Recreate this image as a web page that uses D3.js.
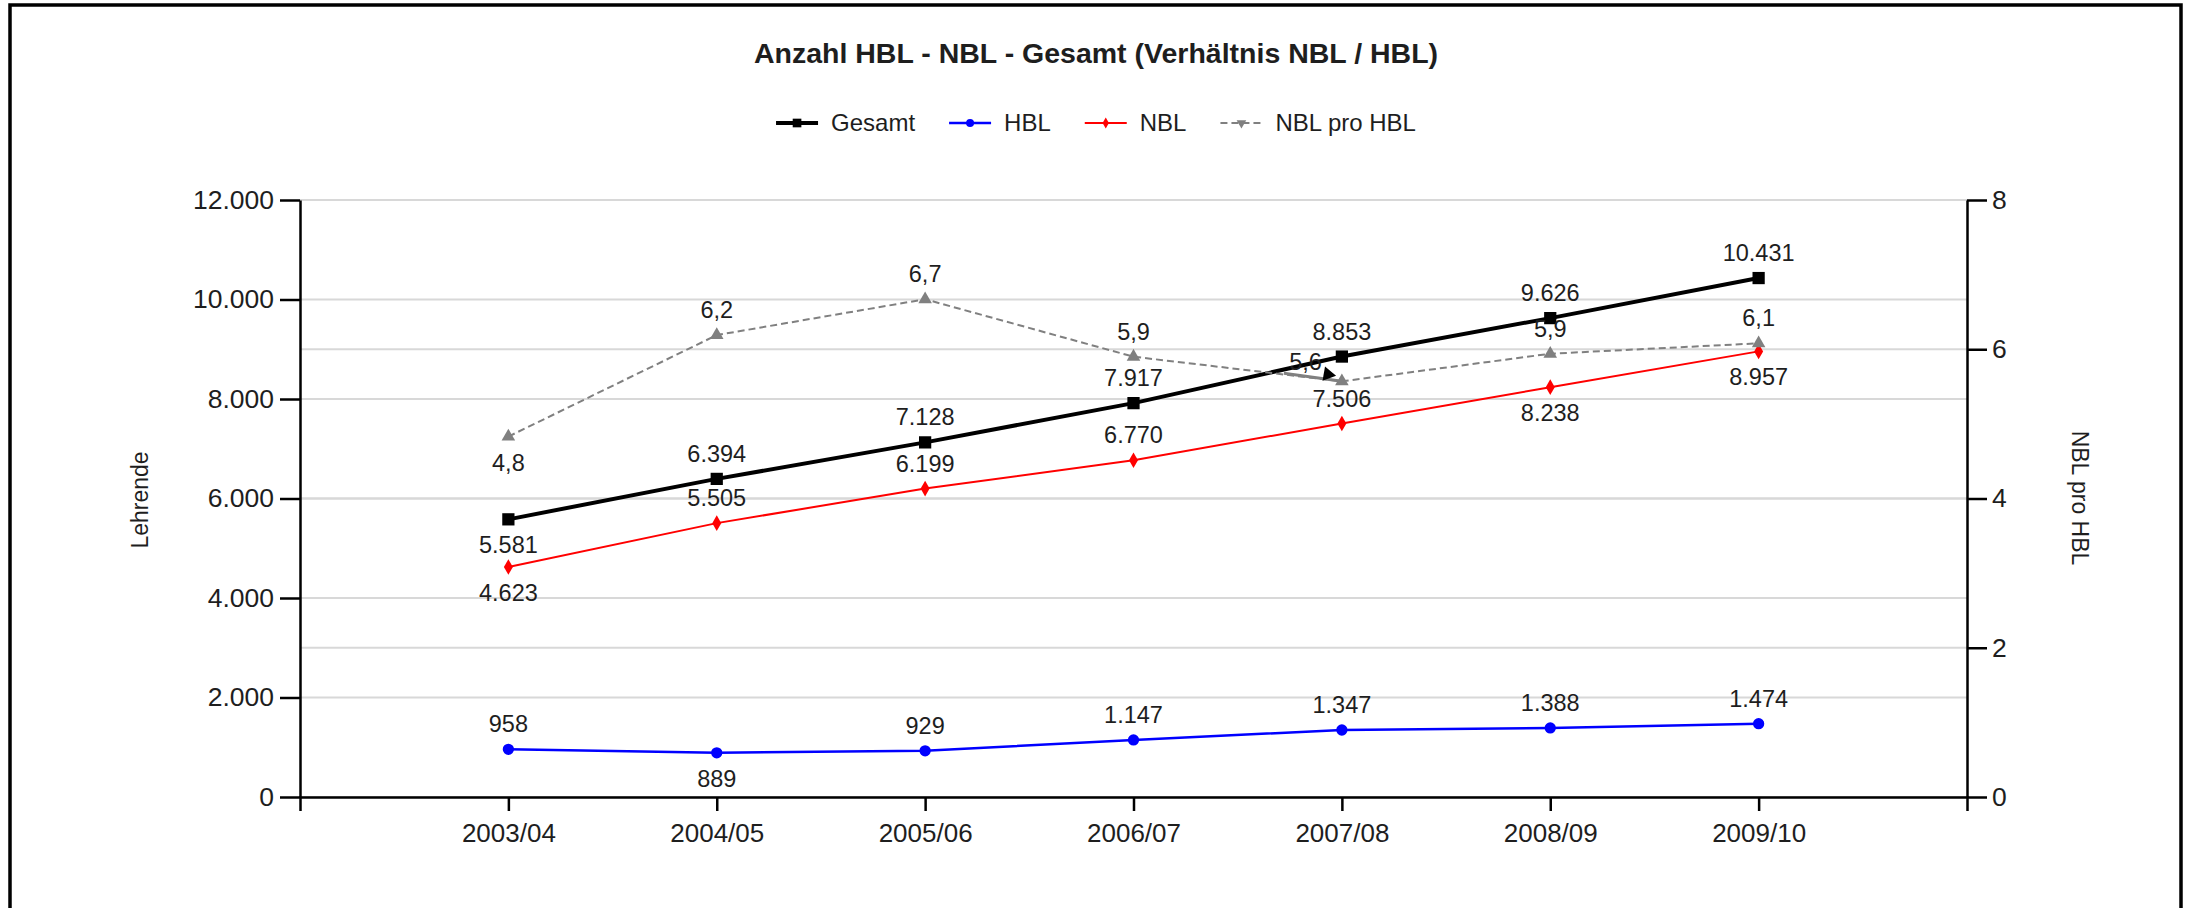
<!DOCTYPE html>
<meta charset="utf-8">

<style>
body { margin: 0; background: #fff; }
svg text { font-family: "Liberation Sans", Arial, sans-serif; fill: #1e1e1e; }
.axis text { font-size: 26.5px; }
.axis.x text { font-size: 26px; }
.axis path, .axis line { stroke: #000; stroke-width: 2.5px; }
.grid line { stroke: #d8d8d8; stroke-width: 2px; }
.title { font-size: 28.5px; font-weight: bold; }
.legend text { font-size: 24px; }
.axis-title { font-size: 23px; }
.label { font-size: 23.5px; }
</style>

<svg class="chart"></svg>

<script src="https://d3js.org/d3.v7.min.js"></script>
<script>

  var years      = ["2003/04", "2004/05", "2005/06", "2006/07", "2007/08", "2008/09", "2009/10"];
  var gesamt     = [5581, 6394, 7128, 7917, 8853, 9626, 10431];
  var hbl        = [958, 889, 929, 1147, 1347, 1388, 1474];
  var nbl        = [4623, 5505, 6199, 6770, 7506, 8238, 8957];
  var nblProHbl  = [4.83, 6.19, 6.67, 5.90, 5.57, 5.94, 6.08];

  var leftTicks  = [0, 2000, 4000, 6000, 8000, 10000, 12000];
  var rightTicks = [0, 2, 4, 6, 8];

  // where each value label sits relative to its point
  var gesamtSide = ["below", "above", "above", "above", "above", "above", "above"];
  var hblSide    = ["above", "below", "above", "above", "above", "above", "above"];
  var nblSide    = ["below", "above", "above", "above", "above", "below", "below"];
  var ratioSide  = ["below", "above", "above", "above", "left", "above", "above"];

  var outerWidth  = 2192;
  var outerHeight = 908;

  var plot = { left: 300, right: 1967, top: 200, bottom: 797 };

  var de = d3.formatLocale({ decimal: ",", thousands: ".", grouping: [3], currency: ["", " €"] });
  var fmtInt   = de.format(",d");
  var fmtRatio = de.format(".1f");

  var svg = d3.select(".chart")
      .attr("width", outerWidth)
      .attr("height", outerHeight);

  // frame
  svg.append("rect")
      .attr("x", 10)
      .attr("y", 5)
      .attr("width", 2171)
      .attr("height", 940)
      .attr("fill", "none")
      .attr("stroke", "#000")
      .attr("stroke-width", 3.5);

  var xScale = d3.scalePoint()
      .domain(years)
      .range([plot.left, plot.right])
      .padding(1);

  var yLeft = d3.scaleLinear()
      .domain([0, 12000])
      .range([plot.bottom, plot.top]);

  var yRight = d3.scaleLinear()
      .domain([0, 8])
      .range([plot.bottom, plot.top]);

  var centerX = 1096;

  svg.append("text")
      .attr("class", "title")
      .attr("x", centerX)
      .attr("y", 63)
      .attr("text-anchor", "middle")
      .text("Anzahl HBL - NBL - Gesamt (Verhältnis NBL / HBL)");

  // gridlines for both axes
  var grid = svg.append("g").attr("class", "grid");

  grid.selectAll("line.l")
      .data(leftTicks)
    .enter().append("line")
      .attr("class", "l")
      .attr("x1", plot.left)
      .attr("x2", plot.right)
      .attr("y1", function(d) { return yLeft(d); })
      .attr("y2", function(d) { return yLeft(d); });

  grid.selectAll("line.r")
      .data(rightTicks)
    .enter().append("line")
      .attr("class", "r")
      .attr("x1", plot.left)
      .attr("x2", plot.right)
      .attr("y1", function(d) { return yRight(d); })
      .attr("y2", function(d) { return yRight(d); });

  var series = [
    { name: "Gesamt",      values: gesamt,    y: yLeft,  color: "#000",    width: 4,   dash: null,  marker: d3.symbolSquare,   size: 150, side: gesamtSide, fmt: fmtInt },
    { name: "HBL",         values: hbl,       y: yLeft,  color: "#0000ff", width: 2.5, dash: null,  marker: d3.symbolCircle,   size: 100, side: hblSide,    fmt: fmtInt },
    { name: "NBL",         values: nbl,       y: yLeft,  color: "#ff0000", width: 2,   dash: null,  marker: d3.symbolDiamond,  size: 70,  side: nblSide,    fmt: fmtInt },
    { name: "NBL pro HBL", values: nblProHbl, y: yRight, color: "#808080", width: 2,   dash: "7,4", marker: d3.symbolTriangle, size: 80,  side: ratioSide,  fmt: fmtRatio }
  ];

  series.forEach(function(s) {
    var line = d3.line()
        .x(function(d, i) { return xScale(years[i]); })
        .y(function(d) { return s.y(d); });

    var g = svg.append("g").attr("class", "series");

    g.append("path")
        .datum(s.values)
        .attr("d", line)
        .attr("fill", "none")
        .attr("stroke", s.color)
        .attr("stroke-width", s.width)
        .attr("stroke-dasharray", s.dash);

    g.selectAll("path.marker")
        .data(s.values)
      .enter().append("path")
        .attr("class", "marker")
        .attr("d", d3.symbol().type(s.marker).size(s.size))
        .attr("transform", function(d, i) {
          return "translate(" + xScale(years[i]) + "," + s.y(d) + ")";
        })
        .attr("fill", s.color);

    // leader line for labels pushed to the left of their point
    s.values.forEach(function(d, i) {
      if (s.side[i] !== "left") return;
      var px = xScale(years[i]);
      var py = s.y(d);
      g.append("line")
          .attr("x1", px - 58).attr("y1", py - 8)
          .attr("x2", px).attr("y2", py)
          .attr("stroke", "#808080")
          .attr("stroke-width", 3);
      g.append("path")
          .attr("d", d3.symbol().type(d3.symbolTriangle).size(90))
          .attr("transform", "translate(" + (px - 14) + "," + (py - 7) + ") rotate(100)")
          .attr("fill", "#000");
    });
  });

  // value labels
  series.forEach(function(s) {
    svg.append("g")
        .attr("class", "labels")
      .selectAll("text")
        .data(s.values)
      .enter().append("text")
        .attr("class", "label")
        .attr("text-anchor", function(d, i) { return s.side[i] === "left" ? "end" : "middle"; })
        .attr("x", function(d, i) {
          var x = xScale(years[i]);
          return s.side[i] === "left" ? x - 20 : x;
        })
        .attr("y", function(d, i) {
          var y = s.y(d);
          if (s.side[i] === "above") return y - 17;
          if (s.side[i] === "below") return y + 34;
          return y - 11;
        })
        .text(function(d) { return s.fmt(d); });
  });

  // axes
  svg.append("g")
      .attr("class", "axis")
      .attr("transform", "translate(" + plot.left + ",0)")
      .call(d3.axisLeft(yLeft).tickValues(leftTicks).tickSize(20).tickSizeOuter(0).tickPadding(6).tickFormat(fmtInt));

  svg.append("g")
      .attr("class", "axis")
      .attr("transform", "translate(" + plot.right + ",0)")
      .call(d3.axisRight(yRight).tickValues(rightTicks).tickSize(20).tickSizeOuter(0).tickPadding(5));

  svg.append("g")
      .attr("class", "axis x")
      .attr("transform", "translate(0," + plot.bottom + ")")
      .call(d3.axisBottom(xScale).tickSize(14).tickSizeOuter(14).tickPadding(13));

  svg.append("text")
      .attr("class", "axis-title")
      .attr("transform", "translate(148,500) rotate(-90)")
      .attr("text-anchor", "middle")
      .text("Lehrende");

  svg.append("text")
      .attr("class", "axis-title")
      .attr("transform", "translate(2072,498) rotate(90)")
      .attr("text-anchor", "middle")
      .text("NBL pro HBL");

  // legend, centred under the title
  var legend = svg.append("g").attr("class", "legend");
  var lx = 0;
  series.forEach(function(s) {
    var item = legend.append("g").attr("transform", "translate(" + lx + ",0)");
    item.append("line")
        .attr("x1", 0).attr("x2", 42)
        .attr("y1", 0).attr("y2", 0)
        .attr("stroke", s.color)
        .attr("stroke-width", s.width)
        .attr("stroke-dasharray", s.dash);
    item.append("path")
        .attr("d", d3.symbol().type(s.marker).size(s.size * 0.5))
        .attr("transform", "translate(21,0)" + (s.marker === d3.symbolTriangle ? " rotate(180)" : ""))
        .attr("fill", s.color);
    var t = item.append("text")
        .attr("x", 55)
        .attr("y", 8)
        .text(s.name);
    lx += 55 + t.node().getComputedTextLength() + 34;
  });
  lx -= 34;
  legend.attr("transform", "translate(" + (centerX - lx / 2) + ",123)");

</script>
